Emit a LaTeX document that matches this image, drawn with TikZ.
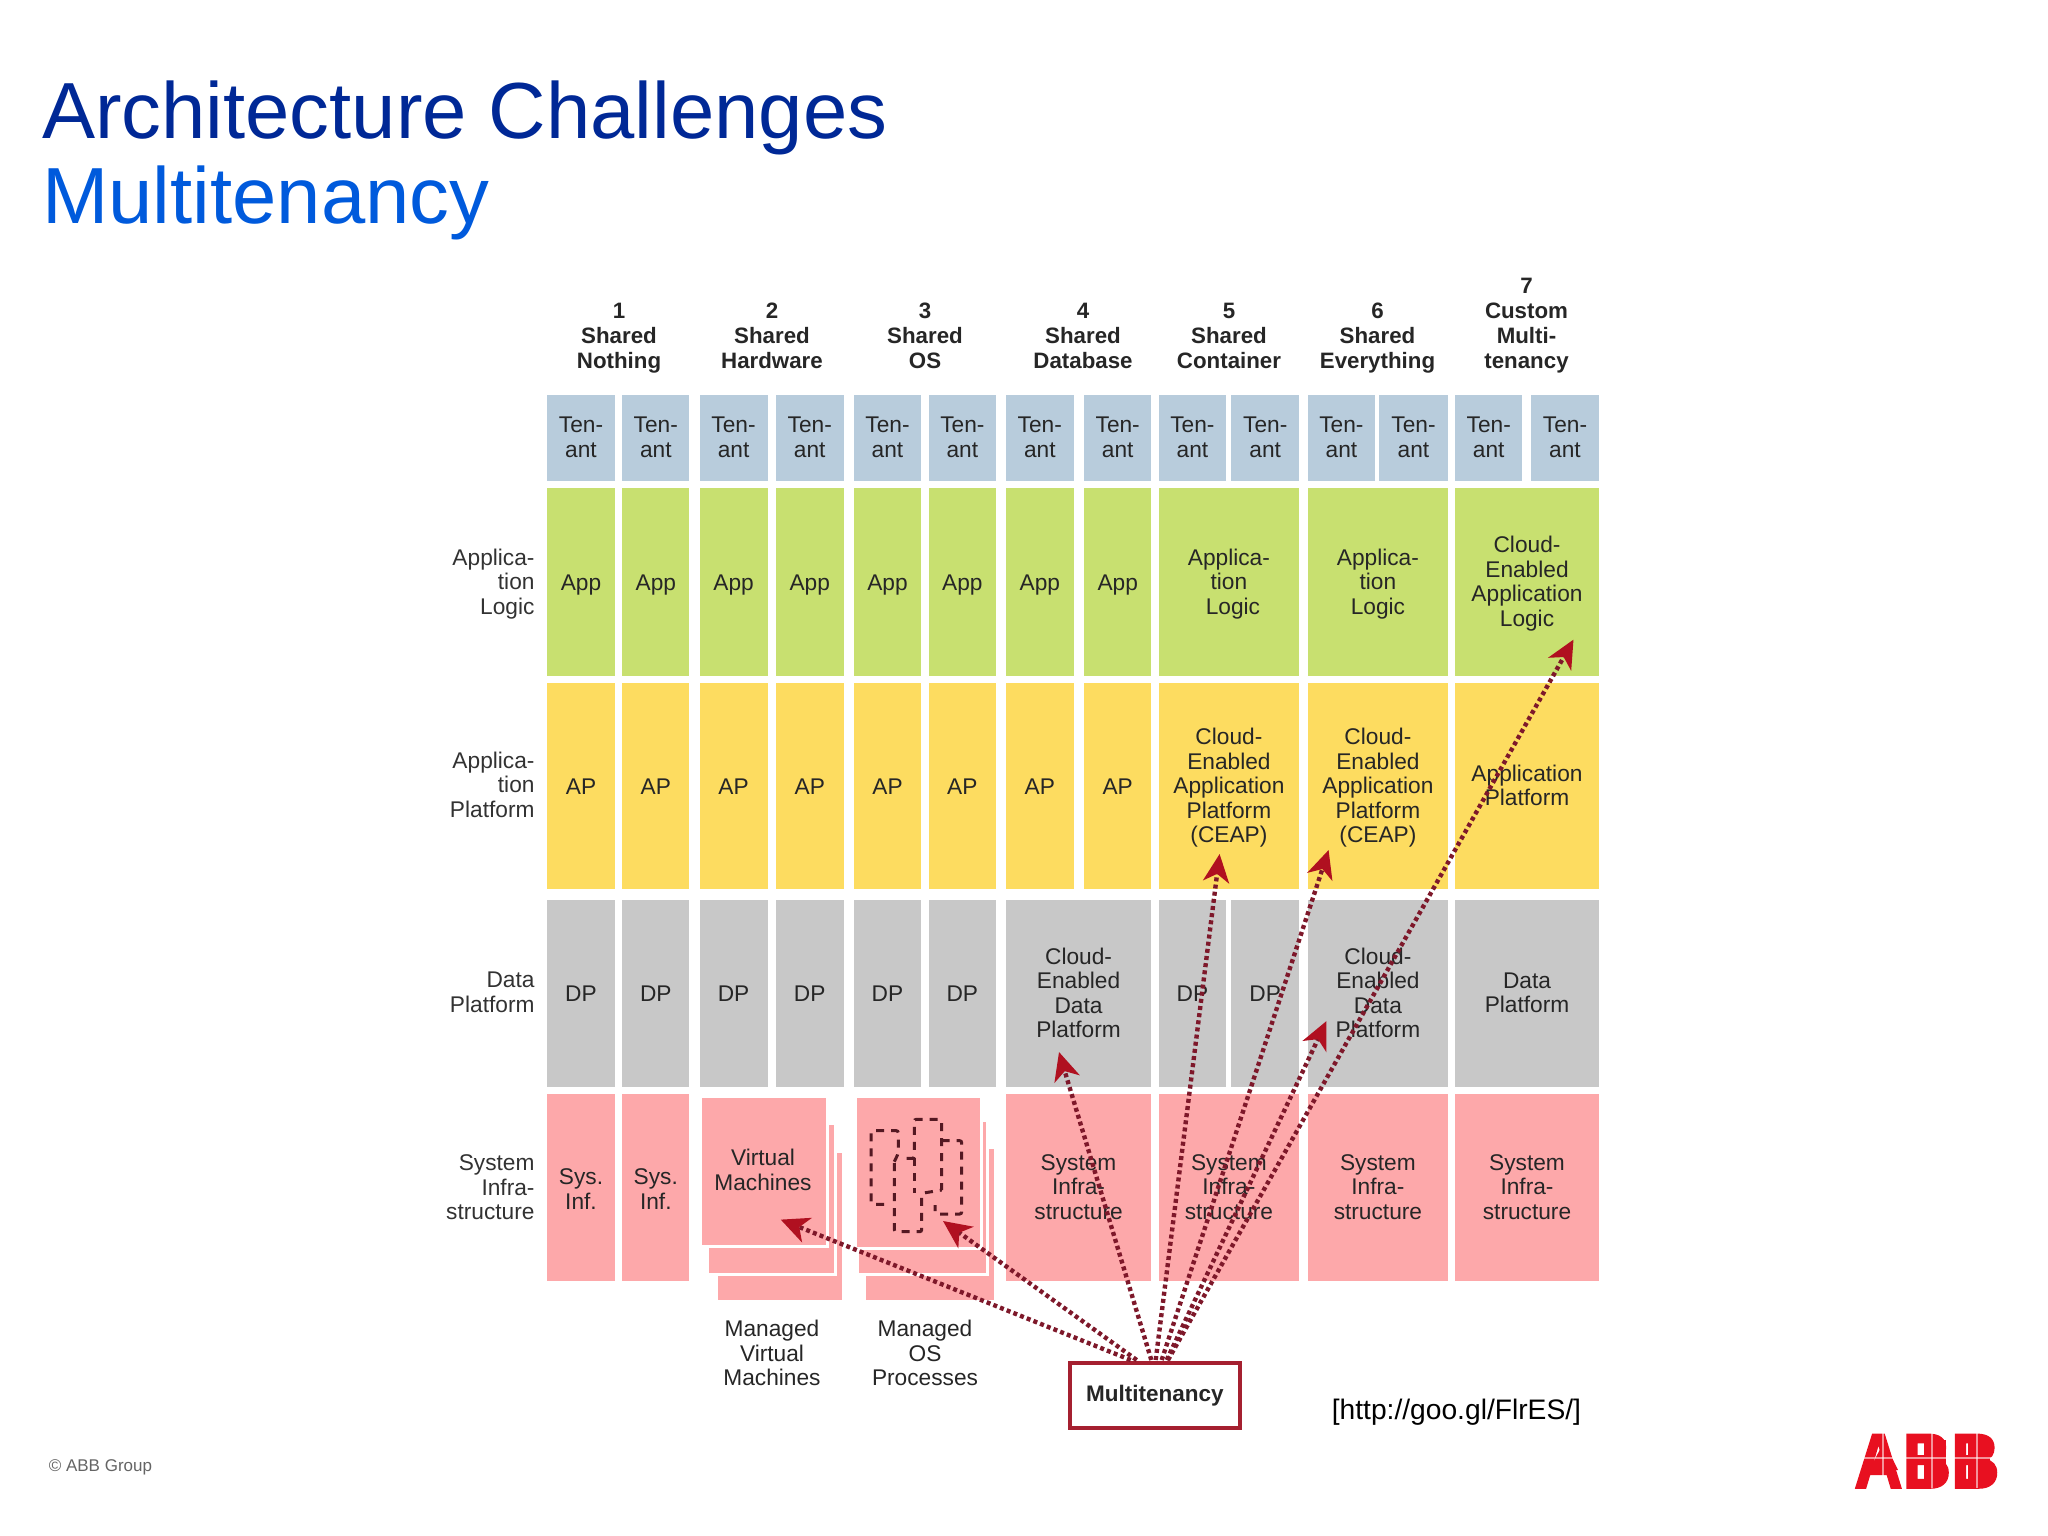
\documentclass[tikz,border=0pt]{standalone}
\usepackage{fontspec}
\setmainfont{Liberation Sans}
\newfontfamily\abbfont[FakeBold=2,FakeStretch=0.86]{Liberation Sans Bold}
\usetikzlibrary{arrows.meta}
\definecolor{tenantc}{RGB}{184,204,220}
\definecolor{greenc}{RGB}{200,224,112}
\definecolor{yellowc}{RGB}{253,220,96}
\definecolor{greyc}{RGB}{200,200,200}
\definecolor{pinkc}{RGB}{253,168,170}
\definecolor{inkc}{RGB}{38,38,38}
\definecolor{arrowc}{RGB}{126,24,42}
\definecolor{headc}{RGB}{176,16,32}
\definecolor{frame}{RGB}{165,32,48}
\definecolor{titlea}{RGB}{0,40,150}
\definecolor{titleb}{RGB}{0,90,220}
\definecolor{abbred}{RGB}{232,16,32}
\tikzset{
  lbl/.style={inner sep=0pt,outer sep=0pt,text=inkc,align=center,yshift=-3.3pt,
    font=\fontsize{22.7}{24.6}\selectfont,
    execute at begin node=\strut,execute at end node=\strut},
  leftlbl/.style={lbl,align=right,anchor=east,text={rgb,255:red,50;green,50;blue,50}},
  headlbl/.style={lbl,font=\fontsize{22.3}{25}\selectfont\bfseries},
  tenantbox/.style={inner sep=0pt,fill=tenantc},
  greenbox/.style={inner sep=0pt,fill=greenc},
  yellowbox/.style={inner sep=0pt,fill=yellowc},
  greybox/.style={inner sep=0pt,fill=greyc},
  pinkbox/.style={inner sep=0pt,fill=pinkc},
  stackbox/.style={inner sep=0pt,fill=pinkc,draw=white,line width=3.5pt},
  proc/.style={draw={rgb,255:red,84;green,24;blue,34},line width=3pt,dash pattern=on 8pt off 7pt,rounded corners=2pt},
  dotted arrow/.style={draw=arrowc,line width=4.4pt,dash pattern=on 4pt off 3.2pt,
    -{Stealth[length=28pt,width=26pt,inset=8pt,color=headc]}},
}
\newcommand{\boxonly}[6]{%
  \pgfmathsetmacro{\cw}{#3-#1}\pgfmathsetmacro{\ch}{#4-#2}%
  \pgfmathsetmacro{\cx}{(#1+#3)/2}\pgfmathsetmacro{\cy}{(#2+#4)/2}%
  \node[#5,minimum width=\cw pt,minimum height=\ch pt] (#6) at (\cx,\cy) {};}
\newcommand{\cell}[7]{\boxonly{#1}{#2}{#3}{#4}{#5}{#6}\node[lbl] (#6-t) at (#6) {#7};}
\begin{document}
\begin{tikzpicture}[x=1pt,y=-1pt]
\useasboundingbox (0,0) rectangle (2048,1536);
% titles
\node[inner sep=0pt,anchor=base west,text=titlea,font=\fontsize{79.6}{90}\selectfont] (title) at (42,138.3) {Architecture Challenges};
\node[inner sep=0pt,anchor=base west,text=titleb,font=\fontsize{79.6}{90}\selectfont] (subtitle) at (42.2,223.3) {Multitenancy};
% headers
\node[headlbl] (h1) at (619,336) {1\\Shared\\Nothing};
\node[headlbl] (h2) at (772,336) {2\\Shared\\Hardware};
\node[headlbl] (h3) at (925,336) {3\\Shared\\OS};
\node[headlbl] (h4) at (1083,336) {4\\Shared\\Database};
\node[headlbl] (h5) at (1229,336) {5\\Shared\\Container};
\node[headlbl] (h6) at (1377.5,336) {6\\Shared\\Everything};
\node[headlbl] (h7) at (1526.5,323.5) {7\\Custom\\Multi-\\tenancy};
% left labels
\node[leftlbl] (l1) at (534.5,582) {Applica-\\tion\\Logic};
\node[leftlbl] (l2) at (534.5,785) {Applica-\\tion\\Platform};
\node[leftlbl] (l3) at (534.5,992.8) {Data\\Platform};
\node[leftlbl] (l4) at (534.5,1187.5) {System\\Infra-\\structure};
% tenants
\foreach \n/\a/\b in {1/547.3/614.7,2/622.3/689.3,3/699.6/767.5,4/776/843.5,5/854/921,6/928.7/996,7/1005.7/1073.9,8/1084/1151.4,9/1158.8/1226,10/1231.4/1299,11/1307.8/1375,12/1379/1448,13/1455/1522.4,14/1531/1599}{
  \cell{\a}{395}{\b}{480.7}{tenantbox}{t\n}{Ten-\\ant}
}
% single-tenant stacks
\foreach \n/\a/\b in {1/547.3/614.7,2/622.3/689.3,3/699.6/767.5,4/776/843.5,5/854/921,6/928.7/996,7/1005.7/1073.9,8/1084/1151.4}{
  \cell{\a}{487.7}{\b}{676}{greenbox}{app\n}{App}
  \cell{\a}{683}{\b}{888.6}{yellowbox}{ap\n}{AP}
}
\foreach \n/\a/\b in {1/547.3/614.7,2/622.3/689.3,3/699.6/767.5,4/776/843.5,5/854/921,6/928.7/996,9/1158.8/1226,10/1231.4/1299}{
  \cell{\a}{899.5}{\b}{1086.7}{greybox}{dp\n}{DP}
}
\boxonly{547.3}{1094}{614.7}{1280.7}{pinkbox}{si1}
\node[lbl,yshift=-2pt] (si1-t) at (si1) {Sys.\\Inf.};
\boxonly{622.3}{1094}{689.3}{1280.7}{pinkbox}{si2}
\node[lbl,yshift=-2pt] (si2-t) at (si2) {Sys.\\Inf.};
% merged green
\cell{1158.8}{487.7}{1299}{676}{greenbox}{appC}{Applica-\\tion\\\hspace*{8pt}Logic}
\cell{1307.8}{487.7}{1448}{676}{greenbox}{appD}{Applica-\\tion\\Logic}
\cell{1455}{487.7}{1599}{676}{greenbox}{appE}{Cloud-\\Enabled\\Application\\Logic}
% merged yellow
\cell{1158.8}{683}{1299}{888.6}{yellowbox}{apC}{Cloud-\\Enabled\\Application\\Platform\\(CEAP)}
\cell{1307.8}{683}{1448}{888.6}{yellowbox}{apD}{Cloud-\\Enabled\\Application\\Platform\\(CEAP)}
\cell{1455}{683}{1599}{888.6}{yellowbox}{apE}{Application\\Platform}
% merged grey
\cell{1005.7}{899.5}{1151.4}{1086.7}{greybox}{dpB}{Cloud-\\Enabled\\Data\\Platform}
\cell{1307.8}{899.5}{1448}{1086.7}{greybox}{dpD}{Cloud-\\Enabled\\Data\\Platform}
\cell{1455}{899.5}{1599}{1086.7}{greybox}{dpE}{Data\\Platform}
% merged pink
\cell{1005.7}{1094}{1151.4}{1280.7}{pinkbox}{siB}{System\\Infra-\\structure}
\cell{1158.8}{1094}{1299}{1280.7}{pinkbox}{siC}{System\\Infra-\\structure}
\cell{1307.8}{1094}{1448}{1280.7}{pinkbox}{siD}{System\\Infra-\\structure}
\cell{1455}{1094}{1599}{1280.7}{pinkbox}{siE}{System\\Infra-\\structure}
% managed VM stack
\boxonly{716.6}{1151.3}{843.7}{1301.7}{stackbox}{vmc}
\boxonly{707.3}{1123.3}{835.7}{1274.7}{stackbox}{vmb}
\boxonly{699.9}{1095.8}{827.7}{1246.7}{stackbox}{vma}
\node[lbl] (vmt) at (763,1170) {Virtual\\Machines};
% managed OS stack
\boxonly{864.7}{1147.3}{995.7}{1301.7}{stackbox}{osc}
\boxonly{857.1}{1120.3}{987.7}{1274.7}{stackbox}{osb}
\boxonly{855}{1095.8}{981.4}{1248.7}{stackbox}{osa}
% dashed processes
\draw[proc] (894.3,1161.7) -- (898.3,1153.3) -- (898.3,1130.7) -- (871,1130.7) -- (871,1204.3) -- (886.7,1204.3);
\draw[proc] (894.3,1163) -- (894.3,1231.7) -- (921.7,1231.7) -- (921.7,1193.3) -- (941.7,1190);
\draw[proc] (906.7,1158.3) -- (914.3,1158.3) -- (914.3,1119.3) -- (941.7,1119.3) -- (941.7,1190);
\draw[proc] (914.3,1158.3) -- (914.3,1193);
\draw[proc] (941.7,1140.7) -- (961.7,1140.7) -- (961.7,1214) -- (935,1214) -- (935,1205);
% captions
\node[lbl] (mvm) at (772,1353.5) {Managed\\Virtual\\Machines};
\node[lbl] (mos) at (925,1353.5) {Managed\\OS\\Processes};
% multitenancy box
\node[draw=frame,line width=4pt,fill=white,inner sep=0pt,minimum width=169.6pt,minimum height=65pt,text=inkc,font=\fontsize{22.5}{25}\selectfont\bfseries] (mt) at (1154.8,1395.5) {Multitenancy};
% arrow ends
\coordinate (sVM) at (1130.7,1360);
\coordinate (sOS) at (1136.7,1360);
\coordinate (sB) at (1151.3,1360);
\coordinate (sC) at (1155.7,1360);
\coordinate (sD) at (1161.7,1360);
\coordinate (sDd) at (1166.7,1360);
\coordinate (sE) at (1168,1360);
\coordinate (tVM) at (780.7,1219.6);
\coordinate (tOS) at (943,1221);
\coordinate (tB) at (1059,1052);
\coordinate (tC) at (1219.6,854);
\coordinate (tD) at (1328.6,850);
\coordinate (tDd) at (1326.5,1021);
\coordinate (tE) at (1573.5,639.6);
\draw[dotted arrow] (sVM) -- (tVM);
\draw[dotted arrow] (sOS) -- (tOS);
\draw[dotted arrow] (sB) -- (tB);
\draw[dotted arrow] (sC) -- (tC);
\draw[dotted arrow] (sD) -- (tD);
\draw[dotted arrow] (sDd) -- (tDd);
\draw[dotted arrow] (sE) -- (tE);
% source, copyright
\node[inner sep=0pt,anchor=west,text=black,font=\fontsize{28.2}{30}\selectfont] (url) at (1331.6,1412) {[http://goo.gl/FlrES/]};
\node[inner sep=0pt,anchor=west,text={rgb,255:red,100;green,100;blue,100},font=\fontsize{17}{20}\selectfont] (copy) at (48.6,1467) {© ABB Group};
% logo
\node[inner sep=0pt,anchor=base west,text=abbred,font=\abbfont\fontsize{78}{80}\selectfont] (abb) at (1854,1488) {ABB};
\fill[abbred] (1869,1470) -- (1884,1442) -- (1898,1470) -- cycle;
\fill[abbred] (1924,1440) rectangle (1946,1482);
\fill[abbred] (1968,1440) rectangle (1990,1482);
\draw[white,opacity=.55,line width=1.3pt] (1856,1458) -- (1999,1458);
\draw[white,opacity=.55,line width=1.3pt] (1883,1432) -- (1883,1488);
\draw[white,opacity=.55,line width=1.3pt] (1932,1432) -- (1932,1488);
\draw[white,opacity=.55,line width=1.3pt] (1977,1432) -- (1977,1488);
\end{tikzpicture}
\end{document}
